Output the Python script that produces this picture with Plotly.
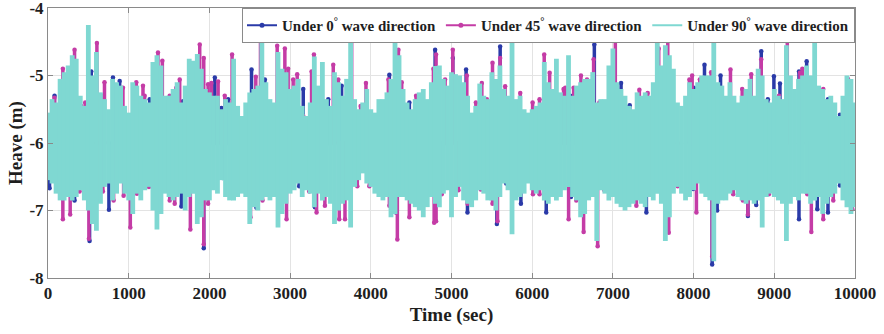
import plotly.graph_objects as go

# Time axis of the heave record (s), one column every 50 s
time_step = 50
t_end = 10000
x_ticks = list(range(0, t_end + 1, 1000))
y_ticks = [-8, -7, -6, -5, -4]

# 90 deg heading: upper and lower excursion of the heave signal in each 50 s window (m)
hi_90 = [
    -5.55, -5.35, -5.4, -5.05, -4.95, -4.85, -4.7, -4.75, -5.3, -5.45,
    -4.25, -5.0, -4.65, -5.25, -5.35, -5.5, -5.05, -5.1, -5.15, -5.45,
    -5.55, -5.1, -5.15, -5.3, -5.35, -5.4, -4.8, -4.7, -4.85, -5.3,
    -5.3, -5.2, -5.1, -5.4, -5.15, -4.75, -4.78, -4.68, -4.9, -5.2,
    -5.25, -5.3, -5.3, -5.5, -5.35, -5.4, -4.75, -5.45, -5.6, -5.4,
    -5.25, -5.2, -5.15, -4.42, -5.1, -5.35, -5.4, -4.65, -4.9, -4.95,
    -5.2, -5.15, -5.05, -5.45, -5.6, -5.4, -4.72, -5.15, -4.8, -5.35,
    -5.45, -4.95, -5.1, -5.3, -5.05, -4.45, -5.35, -5.5, -5.4, -5.2,
    -5.5, -5.55, -5.35, -5.35, -5.25, -5.05, -4.42, -4.7, -5.2, -5.4,
    -5.5, -5.35, -5.25, -5.2, -5.35, -5.1, -4.86, -4.85, -5.05, -5.15,
    -4.95, -4.98, -5.0, -5.1, -5.3, -5.55, -5.45, -5.12, -5.3, -5.35,
    -4.95, -5.05, -4.85, -5.2, -5.3, -4.42, -5.35, -5.3, -5.5, -5.55,
    -5.5, -5.45, -5.4, -4.8, -5.1, -5.2, -4.75, -5.25, -5.3, -4.7,
    -5.3, -5.15, -5.1, -5.05, -5.05, -4.95, -5.4, -5.35, -5.35, -4.85,
    -4.6, -5.1, -5.2, -5.3, -5.45, -5.5, -5.25, -5.3, -5.25, -5.3,
    -5.1, -4.52, -4.85, -4.55, -4.7, -4.9, -5.4, -5.45, -5.3, -5.1,
    -5.2, -5.1, -5.0, -5.0, -5.0, -4.42, -5.1, -5.15, -5.3, -5.1,
    -5.3, -5.4, -5.3, -5.2, -5.05, -5.3, -4.9, -5.0, -5.35, -5.4,
    -5.2, -5.3, -5.35, -4.55, -5.0, -5.2, -5.05, -5.0, -4.85, -5.0,
    -4.45, -5.15, -5.2, -5.35, -5.3, -5.4, -5.6, -5.3, -5.0, -5.05,
    -5.4,
]
lo_90 = [
    -6.55, -6.6, -6.75, -6.85, -6.85, -6.8, -6.85, -6.8, -6.7, -6.85,
    -7.0, -7.2, -7.3, -6.9, -6.65, -6.6, -6.85, -6.75, -6.6, -6.75,
    -6.85, -7.05, -6.75, -6.85, -6.7, -6.65, -7.0, -7.28, -7.05, -6.75,
    -6.8, -6.85, -6.8, -6.75, -7.0, -6.8, -6.75, -7.2, -7.1, -6.85,
    -6.85, -6.7, -6.75, -6.55, -6.8, -6.85, -6.85, -6.8, -6.75, -6.8,
    -7.2, -6.95, -7.0, -6.85, -6.8, -6.85, -6.8, -7.25, -7.05, -6.9,
    -6.75, -6.7, -6.6, -6.8, -6.7, -6.75, -6.95, -6.75, -6.85, -6.8,
    -6.9, -7.2, -7.0, -6.9, -6.85, -7.25, -6.65, -6.55, -6.45, -6.6,
    -6.65, -6.75, -6.8, -6.85, -6.8, -7.1, -7.05, -6.8, -6.8, -6.85,
    -6.9, -6.95, -7.0, -7.1, -6.95, -6.8, -6.9, -6.95, -6.75, -6.7,
    -7.1, -6.8, -6.65, -6.85, -6.9, -6.95, -6.85, -6.7, -6.75, -6.85,
    -6.85, -7.0, -6.8, -6.6, -6.7, -7.35, -6.85, -6.8, -6.75, -6.6,
    -6.7, -6.75, -6.7, -6.85, -6.9, -6.8, -6.85, -6.8, -6.7, -6.65,
    -6.8, -6.85, -7.1, -7.05, -6.85, -6.8, -7.45, -6.7, -6.75, -6.85,
    -6.8, -6.9, -6.95, -7.0, -6.95, -6.9, -6.85, -6.9, -6.95, -6.8,
    -6.85, -6.75, -6.9, -7.45, -7.1, -6.75, -6.65, -6.75, -6.85, -6.8,
    -6.7, -6.6, -6.75, -6.8, -6.85, -7.75, -6.9, -6.85, -6.85, -6.75,
    -6.7, -6.8, -6.85, -6.9, -6.85, -6.9, -6.85, -7.25, -6.8, -6.75,
    -6.8, -6.85, -6.9, -7.45, -6.9, -6.8, -6.85, -6.75, -6.75, -6.9,
    -6.85, -6.8, -7.05, -6.9, -6.8, -6.75, -6.6, -6.85, -6.95, -7.05,
    -6.95,
]

# 45 deg heading: crest excursions (time s, heave m) and trough excursions
peak_t_45 = [80, 184, 258, 329, 411, 461, 606, 672, 700, 929, 1094, 1177, 1197, 1363, 1417,
             1508, 1590, 1632, 1880, 1930, 1984, 2025, 2108, 2190, 2281, 2575, 2633, 2840,
             2935, 2976, 3038, 3088, 3163, 3266, 3295, 3535, 3597, 3763, 3874, 3940, 4218,
             4300, 4342, 4383, 4561, 4619, 4776, 4809, 4921, 5016, 5190, 5302, 5376, 5438,
             5508, 5603, 5665, 5852, 6005, 6091, 6149, 6216, 6389, 6410, 6513, 6604, 6679,
             6761, 6832, 7030, 7328, 7431, 7568, 7680, 7948, 7982, 8077, 8217, 8457, 8602,
             8714, 8838, 9058, 9161, 9318, 9347, 9566, 9607, 9913, 9988]
peak_v_45 = [-5.33, -4.9, -4.93, -4.62, -5.45, -5.4, -4.52, -5.3, -5.1, -5.18, -5.1, -5.15, -5.3,
             -4.66, -4.78, -5.3, -5.18, -5.06, -4.54, -4.74, -5.13, -5.11, -5.09, -5.3, -4.69,
             -5.02, -4.45, -4.56, -4.6, -4.9, -5.06, -4.98, -5.6, -4.94, -4.69, -4.84, -5.06,
             -4.42, -5.45, -5.11, -5.06, -4.5, -4.62, -5.1, -5.3, -5.33, -4.9, -4.69, -5.06,
             -4.62, -5.0, -5.4, -5.11, -5.35, -4.81, -4.74, -5.16, -5.26, -5.4, -5.35, -4.69,
             -4.96, -5.2, -5.18, -5.18, -5.0, -5.06, -4.76, -5.4, -4.45, -5.21, -5.26, -4.6,
             -4.42, -5.06, -5.0, -5.06, -4.95, -4.91, -5.2, -4.98, -4.76, -5.3, -4.44, -4.96,
             -4.9, -5.25, -5.2, -5.05, -5.45]
trough_t_45 = [184, 275, 391, 507, 606, 680, 813, 937, 1020, 1102, 1251, 1508, 1570, 1764, 1930,
               1984, 2509, 2583, 2658, 2956, 3237, 3328, 3431, 3609, 3680, 3833, 3982, 4230,
               4329, 4478, 4785, 4809, 4879, 5086, 5198, 5363, 5508, 5570, 6009, 6091, 6451,
               6546, 6637, 6811, 6894, 7291, 7692, 7803, 8035, 8230, 8491, 8611, 8673, 8933,
               9409, 9459, 9607, 9731, 9967]
trough_v_45 = [-7.13, -7.06, -6.72, -7.42, -6.85, -6.72, -6.85, -6.78, -7.25, -6.75, -6.65, -6.85,
               -6.9, -7.28, -7.5, -6.9, -7.1, -6.9, -6.85, -7.13, -6.72, -7.03, -6.93, -7.13,
               -7.13, -6.64, -6.64, -6.93, -7.43, -7.1, -7.18, -7.16, -6.76, -6.7, -6.9, -6.69,
               -6.9, -7.16, -6.76, -6.76, -7.13, -6.85, -7.32, -7.53, -6.7, -6.93, -7.33, -6.64,
               -7.03, -7.68, -6.76, -6.85, -7.06, -6.76, -6.76, -7.32, -7.13, -6.85, -6.98]

# 0 deg heading: crest and trough excursions
peak_t_0 = [81, 536, 805, 888, 1260, 1673, 2067, 2149, 2232, 2522, 2687, 3163, 3473, 3638, 4230,
            4478, 4797, 5016, 5181, 5603, 6472, 6770, 7101, 7208, 7485, 8002, 8135, 8334, 8838,
            8920, 8995, 9070, 9306, 9401, 9665, 9814, 9905]
peak_v_0 = [-5.3, -4.94, -5.03, -5.08, -5.35, -5.38, -5.03, -5.48, -5.35, -4.91, -5.06, -5.2, -5.35,
            -5.15, -4.99, -5.4, -4.62, -4.74, -4.91, -4.57, -5.3, -4.54, -5.11, -5.44, -5.45,
            -5.18, -4.84, -5.0, -4.64, -5.35, -5.01, -5.12, -4.94, -4.79, -5.35, -5.58, -5.13]
trough_t_0 = [19, 329, 515, 755, 1653, 1930, 2161, 2273, 2356, 2583, 3113, 3308, 4312, 5198, 5562,
              5678, 5860, 6174, 6480, 7415, 7580, 7994, 8093, 8230, 8292, 8673, 8776, 9058,
              9306, 9533, 9665, 9814]
trough_v_0 = [-6.67, -6.85, -7.45, -6.99, -6.94, -7.56, -6.52, -6.8, -6.6, -6.96, -6.64, -6.95,
              -7.03, -7.03, -7.2, -6.6, -6.9, -7.03, -6.8, -7.03, -6.64, -6.68, -6.45, -7.8, -7.0,
              -7.08, -6.92, -6.78, -7.13, -6.98, -7.03, -6.63]

core_level = -6.0
names = ["Under 0<sup>°</sup> wave direction",
         "Under 45<sup>°</sup> wave direction",
         "Under 90<sup>°</sup> wave direction"]
colors = ["#2a3aa8", "#c43ca6", "#7fd8d2"]

FONT = "Liberation Serif, Times New Roman, serif"
INK = "#1e1e1e"


def spike_path(times, values):
    """Vertical strokes from the mean level out to each excursion."""
    xs, ys = [], []
    for t, v in zip(times, values):
        xs += [t, t, None]
        ys += [core_level, v, None]
    return xs, ys


def column_path(hi, lo):
    """One vertical stroke per window, from its trough to its crest."""
    xs, ys = [], []
    for i, (h, l) in enumerate(zip(hi, lo)):
        t = i * time_step
        xs += [t, t, None]
        ys += [l, h, None]
    return xs, ys


fig = go.Figure()

for name, color, pts in [
    (names[0], colors[0], (peak_t_0 + trough_t_0, peak_v_0 + trough_v_0)),
    (names[1], colors[1], (peak_t_45 + trough_t_45, peak_v_45 + trough_v_45)),
]:
    xs, ys = spike_path(*pts)
    fig.add_trace(go.Scatter(
        x=xs, y=ys, mode="lines+markers", name=name, legendgroup=name, showlegend=False,
        line=dict(color=color, width=3.5),
        marker=dict(color=color, size=4.5),
    ))

bx, by = column_path(hi_90, lo_90)
fig.add_trace(go.Scatter(
    x=bx, y=by, mode="lines", name=names[2], legendgroup=names[2], showlegend=False,
    line=dict(color=colors[2], width=4.8),
))

# legend keys drawn as thin lines with a point marker
for name, color, with_marker in [(names[0], colors[0], True),
                                 (names[1], colors[1], True),
                                 (names[2], colors[2], False)]:
    fig.add_trace(go.Scatter(
        x=[None], y=[None], name=name, legendgroup=name,
        mode="lines+markers" if with_marker else "lines",
        line=dict(color=color, width=2),
        marker=dict(color=color, size=5),
    ))

axis_common = dict(
    showline=True, linecolor="#8a8a8a", linewidth=1, mirror="ticks",
    ticks="inside", ticklen=5, tickcolor="#8a8a8a",
    showgrid=True, gridcolor="#e3e3e3", gridwidth=1,
    zeroline=False, ticklabeloverflow="allow", automargin=False,
    tickfont=dict(family=FONT, size=17, color=INK, weight="bold"),
)

fig.update_xaxes(
    range=[0, t_end], tickmode="array",
    tickvals=x_ticks, ticktext=[str(v) for v in x_ticks],
    title=dict(text="Time (sec)", font=dict(family=FONT, size=19, color=INK, weight="bold"),
               standoff=5),
    **axis_common,
)
fig.update_yaxes(
    range=[-8, -4], tickmode="array",
    tickvals=y_ticks, ticktext=[str(v) for v in y_ticks],
    title=dict(text="Heave (m)", font=dict(family=FONT, size=19, color=INK, weight="bold"),
               standoff=1),
    **axis_common,
)

fig.update_layout(
    width=884, height=334,
    margin=dict(l=48, r=29, t=8, b=56),
    paper_bgcolor="white", plot_bgcolor="white",
    showlegend=True,
    legend=dict(
        orientation="h", x=1, xanchor="right", y=1, yanchor="top",
        bgcolor="white", bordercolor="#8a8a8a", borderwidth=1,
        font=dict(family=FONT, size=15, color=INK, weight="bold"),
        itemwidth=30, tracegroupgap=0,
    ),
)

fig.write_html("out.html")
